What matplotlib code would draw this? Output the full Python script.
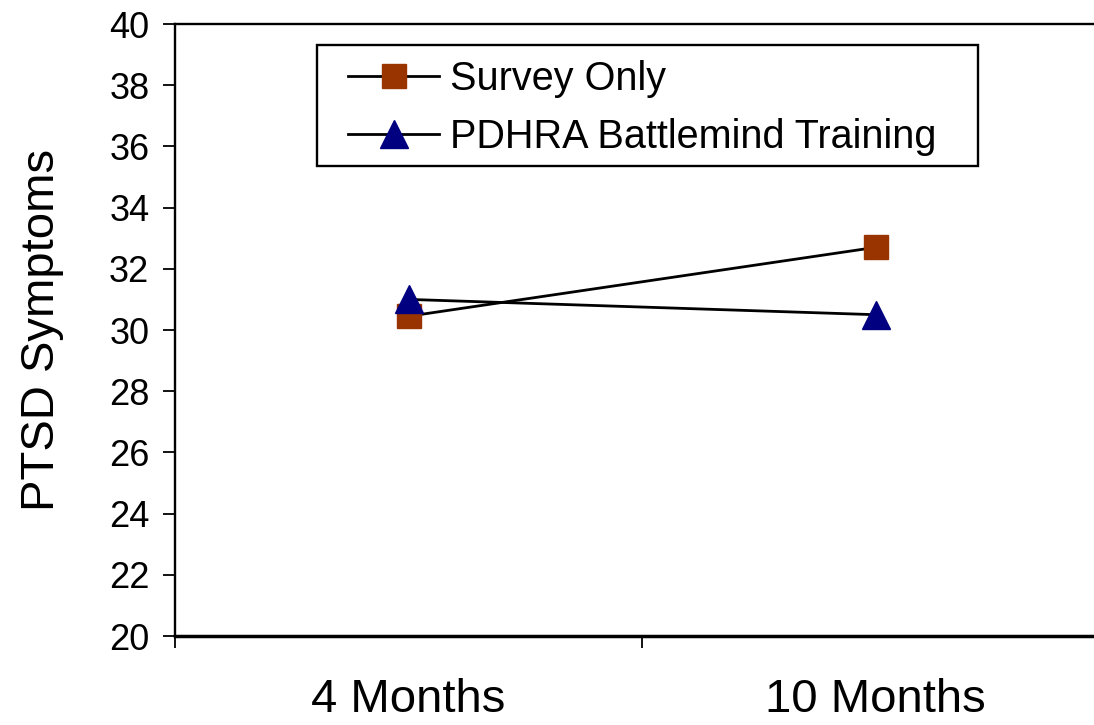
import matplotlib
matplotlib.use("Agg")
import matplotlib.pyplot as plt
from matplotlib.patches import Rectangle

categories = ["4 Months", "10 Months"]
survey_only = [30.45, 32.7]
battlemind = [31.0, 30.5]
series_names = ["Survey Only", "PDHRA Battlemind Training"]
y_ticks = [20, 22, 24, 26, 28, 30, 32, 34, 36, 38, 40]

plt.rcParams['font.family'] = ['Liberation Sans', 'DejaVu Sans']

W, H = 1094, 725
fig = plt.figure(figsize=(W / 100, H / 100), dpi=100)
ax = fig.add_axes([175 / W, 1 - 636 / H, (1109 - 175) / W, (636 - 24) / H])

x = list(range(len(categories)))
ax.plot(x, survey_only, color='black', lw=2.0, marker='s', markersize=17.5,
        markerfacecolor='#993300', markeredgecolor='#993300', label=series_names[0],
        clip_on=False, zorder=3)
ax.plot(x, battlemind, color='black', lw=2.0, marker='^', markersize=19.5,
        markerfacecolor='#000080', markeredgecolor='#000080', label=series_names[1],
        clip_on=False, zorder=3)

ax.set_xlim(-0.5, len(categories) - 0.5)
ax.set_ylim(20, 40)
ax.set_yticks(y_ticks)
ax.set_yticklabels([str(t) for t in y_ticks], fontsize=26)
ax.tick_params(axis='y', direction='out', length=8.5, width=1.3, pad=10)

ax.set_xticks(x)
ax.set_xticklabels(categories, fontsize=34)
ax.set_xticks([i - 0.5 for i in range(len(categories) + 1)], minor=True)
ax.tick_params(axis='x', which='major', length=0, pad=30)
ax.tick_params(axis='x', which='minor', direction='out', length=8.5, width=1.3)

for s in ['left', 'bottom', 'top', 'right']:
    ax.spines[s].set_linewidth(1.7)
ax.spines['bottom'].set_linewidth(2.5)

ax.set_ylabel("PTSD Symptoms", fontsize=34, labelpad=32)

# legend box
ax.add_patch(Rectangle((317 / W, 1 - 166 / H), (978 - 317) / W, (166 - 45) / H,
                       transform=fig.transFigure, facecolor='white',
                       edgecolor='black', linewidth=1.7, zorder=4, clip_on=False))
leg = ax.legend(loc='upper left', bbox_to_anchor=(348 / W, 1 - 60 / H),
                bbox_transform=fig.transFigure, fontsize=28.5, frameon=False,
                handlelength=2.3, handletextpad=0.28, labelspacing=0.5,
                borderpad=0, borderaxespad=0)
leg.set_zorder(5)

fig.savefig("out.png", dpi=100)
